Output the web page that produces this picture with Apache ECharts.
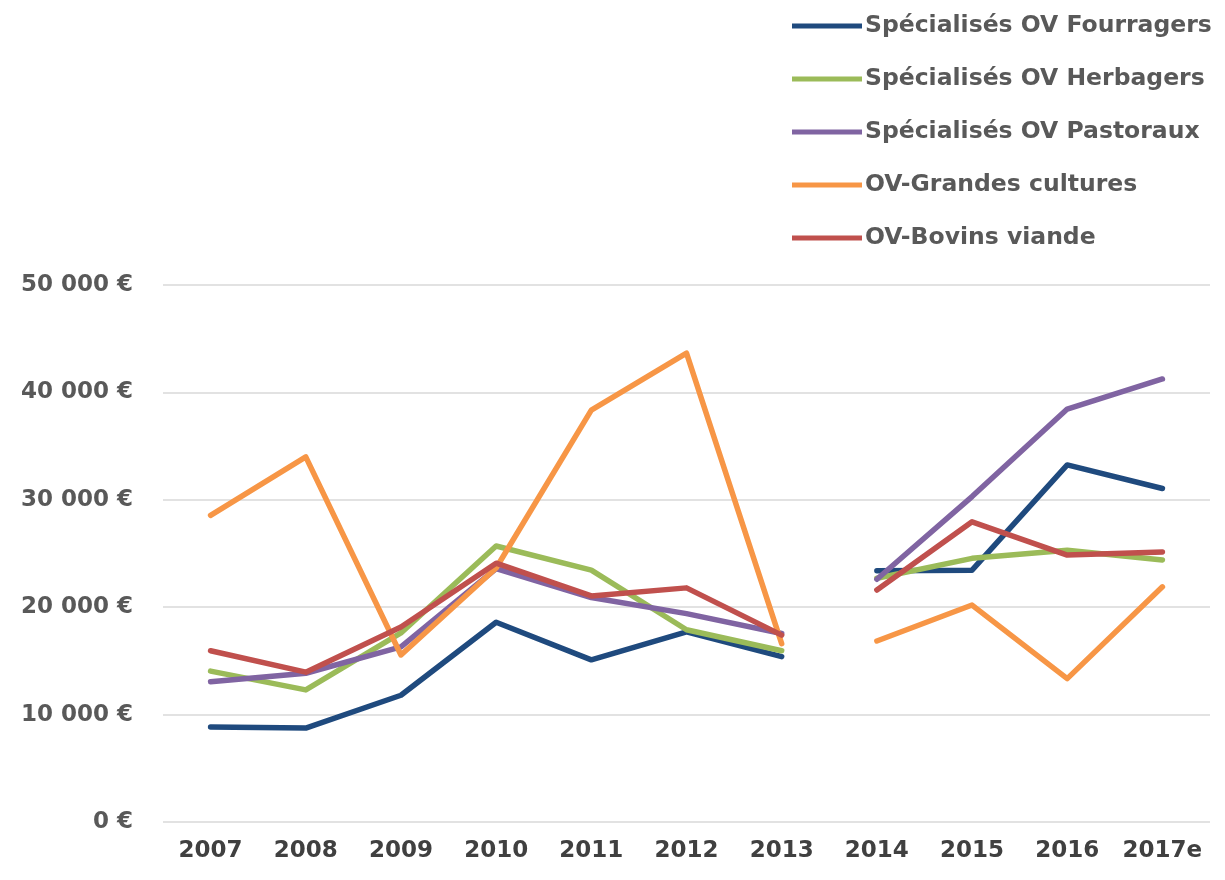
<!DOCTYPE html>
<html>
<head>
<meta charset="utf-8">
<script src="https://cdn.jsdelivr.net/npm/echarts@6/dist/echarts.min.js"></script>
<style>
html,body{margin:0;padding:0;background:#fff;}
#chart{width:1225px;height:880px;}
</style>
</head>
<body>
<div id="chart"></div>
<script>
const categories = ['2007','2008','2009','2010','2011','2012','2013','2014','2015','2016','2017e'];
const seriesNames = ['Spécialisés OV Fourragers','Spécialisés OV Herbagers','Spécialisés OV Pastoraux','OV-Grandes cultures','OV-Bovins viande'];
const fourragers = [8850, 8750, 11800, 18600, 15100, 17700, 15400, 23400, 23450, 33250, 31050];
const herbagers  = [14050, 12300, 17600, 25700, 23450, 17900, 15950, 22700, 24550, 25300, 24400];
const pastoraux  = [13050, 13850, 16300, 23600, 20900, 19400, 17550, 22600, 30300, 38450, 41250];
const grandesCultures = [28550, 34000, 15550, 23650, 38350, 43650, 16600, 16850, 20200, 13350, 21900];
const bovinsViande = [15950, 13950, 18150, 24100, 21050, 21800, 17400, 21600, 27950, 24850, 25150];
const yTicks = [0, 10000, 20000, 30000, 40000, 50000];
const breakIndex = 7; // line is interrupted between 2013 and 2014

const colors = ['#1F4A7E','#9BBB59','#8064A2','#F79646','#C0504D'];
const allData = [fourragers, herbagers, pastoraux, grandesCultures, bovinsViande];

const series = [];
allData.forEach((d, i) => {
  const first = d.map((v, k) => k < breakIndex ? v : null);
  const second = d.map((v, k) => k >= breakIndex ? v : null);
  [first, second].forEach(part => {
    series.push({
      name: seriesNames[i],
      type: 'line',
      data: part,
      symbol: 'none',
      connectNulls: false,
      color: colors[i],
      lineStyle: {width: 5.5, color: colors[i], cap: 'round', join: 'round'},
      emphasis: {disabled: true}
    });
  });
});

const chart = echarts.init(document.getElementById('chart'), null, {renderer: 'canvas'});
chart.setOption({
  animation: false,
  backgroundColor: '#fff',
  legend: {
    orient: 'vertical',
    left: 787,
    top: 9,
    itemWidth: 70,
    itemHeight: 26,
    itemGap: 29,
    data: seriesNames,
    icon: 'path://M0,10 L70,10 L70,15 L0,15 Z',
    textStyle: {fontFamily: 'DejaVu Sans', fontWeight: 'bold', fontSize: 23.5, color: '#595959', padding: [0,0,0,-2]}
  },
  grid: {left: 163, right: 15, top: 285, bottom: 58, containLabel: false},
  xAxis: {
    type: 'category',
    data: categories,
    boundaryGap: true,
    axisLine: {show: false},
    axisTick: {show: false},
    axisLabel: {interval: 0, fontFamily: 'DejaVu Sans', fontWeight: 'bold', fontSize: 23, color: '#404040', margin: 18}
  },
  yAxis: {
    type: 'value',
    min: yTicks[0],
    max: yTicks[yTicks.length - 1],
    interval: yTicks[1] - yTicks[0],
    axisLine: {show: false},
    axisTick: {show: false},
    splitLine: {lineStyle: {color: '#D9D9D9', width: 1.5}},
    axisLabel: {
      fontFamily: 'DejaVu Sans', fontWeight: 'bold', fontSize: 23, color: '#595959', margin: 30,
      formatter: v => String(v).replace(/\B(?=(\d{3})+(?!\d))/g, ' ') + ' €'
    }
  },
  series: series
});
</script>
</body>
</html>
